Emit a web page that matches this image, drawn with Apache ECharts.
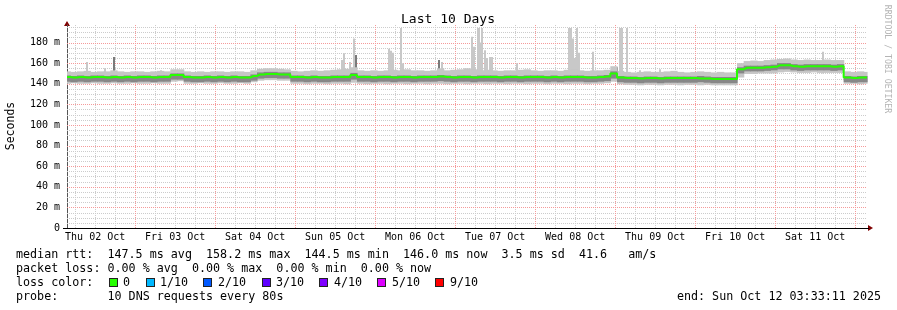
<!DOCTYPE html>
<html><head><meta charset="utf-8">
<script src="https://cdn.jsdelivr.net/npm/echarts@6/dist/echarts.min.js"></script>
<style>html,body{margin:0;padding:0;background:#fff}#c{width:897px;height:310px}</style>
</head><body><div id="c"></div>
<script>
// ---- time base: hours after Thu 02 Oct 00:00 ----
const START_H = 3 + 33/60 + 11/3600;   // graph start 03:33:11
const SPAN_H = 240;                    // 10 days
const STEP_H = 2;                      // sample spacing of the arrays below

const dayLabels = ['Thu 02 Oct','Fri 03 Oct','Sat 04 Oct','Sun 05 Oct','Mon 06 Oct','Tue 07 Oct','Wed 08 Oct','Thu 09 Oct','Fri 10 Oct','Sat 11 Oct'];
const dayLabelHours = [12,36,60,84,108,132,156,180,204,228];
const yMajorTicks = [20,40,60,80,100,120,140,160,180];
const yMax = 197;

// ---- median rtt (ms), one value every 2 h ----
const median = [146.5,146,146.5,146,146.5,146.5,146,146.5,146,146.5,146,146.5,146.5,146,146.5,146.5,
148.5,148.5,
146.5,146,146,146.5,146,146.5,146,146.5,146,146,
147.5,149,149.5,149.5,149,149,
146.5,146.5,146,146.5,146,146,146.5,146.5,146.5,148.5,146.5,146.5,146,146.5,146.5,146,146.5,146.5,146,146.5,146.5,146.5,
147,146.5,146,146.5,146.5,146,146.5,146.5,146.5,146,146.5,146.5,146,146.5,146.5,146.5,146,146.5,146,146.5,146.5,146.5,146,146,146.5,147,
150,146,
145.5,145.5,145,145.5,145.5,145,145.5,145.5,145.5,145.5,145.5,145,145,144.5,144.5,144.5,144.5,
154,
155.5,155.5,155.5,156,156.5,158,158,157,156.5,157,157,157,157,156.5,157,
146,145.5,146,146];

// ---- smoke: outer min / max and inner band (ms) ----
const smokeLo = [140,140.5,140,140,140.5,140,140,140.5,140,140,140.5,140,140,140.5,140,140,
142,142.5,
140,140,140.5,140,140,140.5,140,140,140.5,140,
141.5,143,143.5,143.5,143,143,
140,140,139.5,140,140,139.5,140,140,139.5,141,140,139.5,140,140,139.5,140,140,139.5,140,140,139.5,140,
140,139.5,140,140,139.5,140,140,139.5,140,140,139.5,140,140,139.5,140,140,139.5,140,140,139.5,140,140,139.5,140,140,140.5,
142,139.5,
139,139,138.5,139,139,138.5,139,139,138.5,139,139,138.5,139,138.5,138.5,138.5,138.5,
146,
149.5,149.5,150,150,150,151,151.5,151,150.5,150.5,151,150.5,150.5,150.5,150.5,
140,140,139.5,140];

const smokeHi = [152,151.5,152,152.5,151.5,152,152,153,152,151.5,152,152,151.5,152,152.5,152,
154,154,
152,151.5,152,151.5,152,152,151.5,152,152,151.5,
153,154.5,155,155,154.5,154,
152.5,152,152.5,153,152.5,153,153.5,154,154.5,
156,
153,152.5,153,152.5,153,153.5,153,154,153,153,152.5,153,
155,
153,153.5,154,155,154,153,153.5,153,152.5,153,153,153.5,154,153,152.5,153,153,152.5,153.5,154,153,152.5,153,153,153.5,
157,152.5,
151.5,151,151.5,152,151.5,151.5,152,152.5,151.5,151,151.5,152,151.5,151,151.5,151,151,
160,
162,162.5,162,163,163.5,164,164.5,163.5,163,163.5,163,163,163.5,163,163,
152,151.5,152,151.5];

const smokeQ1 = [142,141.5,142,141.5,142,142,141.5,142,141.5,142,141.5,142,142,141.5,142,142,
144,144,
142,141.5,141.5,142,141.5,142,141.5,142,141.5,141.5,
143,145,145.5,145.5,145,145,
142,142,141.5,142,141.5,141.5,142,142,142,144,142,142,141.5,142,142,141.5,142,142,141.5,142,142,142,
142.5,142,141.5,142,142,141.5,142,142,142,141.5,142,142,141.5,142,142,142,141.5,142,141.5,142,142,142,141.5,141.5,142,142.5,
145,141.5,
141,141,140.5,141,141,140.5,141,141,141,141,141,141.5,141,140.5,140.5,140.5,140.5,
150,
152,152,152,152.5,153,154,154,153,152.5,153,153,153,153,152.5,153,
141.5,141,141.5,141.5];

const smokeQ3 = [148,147.5,148,147.5,148,148,147.5,148,147.5,148,147.5,148,148,147.5,148,148,
150,150,
148,147.5,147.5,148,147.5,148,147.5,148,147.5,147.5,
149,151,151.5,151.5,151,151,
148,148,147.5,148,147.5,147.5,148,148,148,150.5,148,148,147.5,148,148,147.5,148,148,147.5,148,148,148,
148.5,148,147.5,148,148,147.5,148,148,148,147.5,148,148,147.5,148,148,148,147.5,148,147.5,148,148,148,147.5,147.5,148,148.5,
152,147.5,
147,147,146.5,147,147,146.5,147,147,147,147,147,147.5,147,146.5,146.5,146.5,146.5,
156,
157.5,157.5,157.5,158,158.5,160,160,159,158.5,159,159,159,159,158.5,159,
147.5,147,147.5,147.5];

// ---- outlier spikes: hours after graph start, top value (ms) ----
const SPIKE_BASE = 150;
const spikeHours = [6.0,11.4,28.2,82.5,83.0,85.0,86.0,96.7,97.2,97.8,100.3,100.8,112.5,119.4,121.6,122.1,123.3,123.7,124.2,124.6,125.5,126.0,127.0,127.6,135.0,150.6,151.2,151.8,152.4,153.0,153.6,157.8,166.0,166.6,168.1,171.9,177.9,226.8];
const spikeTops  = [161,155,153,163,169.5,161,184,174,172,170,194,160,161,153,185.5,176,194,194,180,194,172.5,165,166,166,160,194,194,184,165,194,170,171,194,194,194,153,154,171];
const darkSpikeHours = [14.1,86.6,111.7,165.1];
const darkSpikeTops  = [166,168,163,156];

// ---- text ----
const titleText = 'Last 10 Days';
const yAxisTitle = 'Seconds';
const line1 = 'median rtt:  147.5 ms avg  158.2 ms max  144.5 ms min  146.0 ms now  3.5 ms sd  41.6   am/s';
const line2 = 'packet loss: 0.00 % avg  0.00 % max  0.00 % min  0.00 % now';
const line3 = 'loss color:';
const lossLabels = ['0','1/10','2/10','3/10','4/10','5/10','9/10'];
const lossColors = ['#26ff00','#00b8ff','#0059ff','#5e00ff','#7e00ff','#dd00ff','#ff0000'];
const line4a = 'probe:';
const line4b = '10 DNS requests every 80s';
const endText = 'end: Sun Oct 12 03:33:11 2025';
const credit = 'RRDTOOL / TOBI OETIKER';

// ---- build ----
const MONO = '"DejaVu Sans Mono", monospace';
const RED = '#f59a9a', GRAY = '#cccccc';
const tAt = i => START_H + i * STEP_H;
const bandData = (lo, hi) => lo.map((v, i) => [tAt(i), v, hi[i]]);

const majorX = [], minorX = [], minorY = [];
for (let h = 6; h < START_H + SPAN_H; h += 6) {
  if (h <= START_H) continue;
  (h % 24 === 0 ? majorX : minorX).push([h, 0]);
}
for (let v = 5; v < yMax; v += 5) if (v % 20 !== 0) minorY.push([START_H, v]);
const majorY = yMajorTicks.map(v => [START_H, v]);

// dotted grid lines, snapped to pixel centres
const vGridRender = (color) => (params, api) => {
  const cs = params.coordSys;
  const x = Math.round(api.coord([api.value(0), 0])[0]) + 0.5;
  return { type: 'line', shape: { x1: x, y1: cs.y, x2: x, y2: cs.y + cs.height }, style: { stroke: color, lineWidth: 1, lineDash: [1, 1] } };
};
const hGridRender = (color) => (params, api) => {
  const cs = params.coordSys;
  const y = Math.round(api.coord([START_H, api.value(1)])[1]) + 0.5;
  return { type: 'line', shape: { x1: cs.x, y1: y, x2: cs.x + cs.width, y2: y }, style: { stroke: color, lineWidth: 1, lineDash: [1, 1] } };
};
const spikeRender = (color) => (params, api) => {
  const a = api.coord([api.value(0), api.value(1)]);
  const b = api.coord([api.value(0), api.value(2)]);
  return { type: 'rect', shape: { x: Math.round(a[0]) - 1, y: b[1], width: 2, height: a[1] - b[1] }, style: { fill: color } };
};
const bandRender = (color) => (params, api) => {
  const t = api.value(0);
  const cs = params.coordSys;
  const a = api.coord([t - STEP_H / 2, api.value(2)]);
  const b = api.coord([t + STEP_H / 2, api.value(1)]);
  const x0 = Math.max(cs.x, a[0]), x1 = Math.min(cs.x + cs.width, b[0]);
  return { type: 'rect', shape: { x: x0, y: a[1], width: x1 - x0 + 0.6, height: b[1] - a[1] }, style: { fill: color } };
};

const GL = 67, GT = 25, GW = 800, GH = 203;
const chart = echarts.init(document.getElementById('c'), null, { renderer: 'canvas' });

const lossGraphics = [];
const boxX = [109, 146, 203, 262, 319, 377, 435];
const labX = [123, 160, 218, 276, 334, 392, 450];
lossLabels.forEach((l, i) => {
  lossGraphics.push({ type: 'rect', shape: { x: boxX[i], y: 278, width: 9, height: 9 }, style: { fill: '#222' } });
  lossGraphics.push({ type: 'rect', shape: { x: boxX[i] + 1, y: 279, width: 7, height: 7 }, style: { fill: lossColors[i] } });
  lossGraphics.push({ type: 'text', x: labX[i], y: 282.5, style: { text: l, font: '11.7px ' + MONO, fill: '#000', verticalAlign: 'middle' } });
});
const txt = (t, x, y, extra) => Object.assign({ type: 'text', x, y, style: Object.assign({ text: t, font: '11.7px ' + MONO, fill: '#000', verticalAlign: 'middle' }, extra || {}) });
const gridSeries = (data, render) => ({ type: 'custom', renderItem: render, data, encode: { x: 0, y: 1 }, silent: true, z: 1 });

chart.setOption({
  animation: false,
  backgroundColor: '#fff',
  grid: { left: GL, top: GT, width: GW, height: GH },
  xAxis: {
    type: 'value', min: START_H, max: START_H + SPAN_H,
    axisLine: { show: true, lineStyle: { color: '#000', width: 1 } },
    axisTick: { show: false },
    splitLine: { show: false },
    axisLabel: {
      customValues: dayLabelHours, margin: 4,
      formatter: v => dayLabels[dayLabelHours.indexOf(Math.round(v))] || '',
      fontFamily: MONO, fontSize: 10, color: '#000'
    }
  },
  yAxis: {
    type: 'value', min: 0, max: yMax, interval: 20,
    axisLine: { show: true, lineStyle: { color: '#555', width: 1 } },
    axisTick: { show: false },
    axisLabel: { showMaxLabel: false, margin: 7, fontFamily: MONO, fontSize: 10, color: '#000', formatter: v => v === 0 ? '0' : v + ' m' },
    splitLine: { show: false }
  },
  series: [
    gridSeries(minorY, hGridRender(GRAY)),
    gridSeries(minorX, vGridRender(GRAY)),
    gridSeries(majorY, hGridRender(RED)),
    gridSeries(majorX, vGridRender(RED)),
    { type: 'custom', renderItem: spikeRender('#c8c8c8'), data: spikeHours.map((h, i) => [START_H + h, SPIKE_BASE, spikeTops[i]]), encode: { x: 0, y: [1, 2] }, silent: true, z: 2 },
    { type: 'custom', renderItem: spikeRender('#7a7a7a'), data: darkSpikeHours.map((h, i) => [START_H + h, SPIKE_BASE, darkSpikeTops[i]]), encode: { x: 0, y: [1, 2] }, silent: true, z: 2 },
    { type: 'custom', renderItem: bandRender('#c6c6c6'), data: bandData(smokeLo, smokeHi), encode: { x: 0, y: [1, 2] }, silent: true, z: 3 },
    { type: 'custom', renderItem: bandRender('#878787'), data: bandData(smokeQ1, smokeQ3), encode: { x: 0, y: [1, 2] }, silent: true, z: 4 },
    { type: 'line', step: 'middle', showSymbol: false, symbol: 'none', silent: true, data: median.map((v, i) => [tAt(i), v]), lineStyle: { color: '#26ff00', width: 2 }, z: 5 }
  ],
  graphic: [
    txt(titleText, 448, 20, { font: '13px ' + MONO, align: 'center' }),
    { type: 'text', x: 11, y: 126, rotation: Math.PI / 2, style: { text: yAxisTitle, font: '11.5px ' + MONO, fill: '#000', align: 'center', verticalAlign: 'middle' } },
    { type: 'text', x: 887, y: 59, rotation: -Math.PI / 2, style: { text: credit, font: '8.2px ' + MONO, fill: '#b4b4b4', align: 'center', verticalAlign: 'middle' } },
    { type: 'polygon', shape: { points: [[GL, GT - 4], [GL - 3, GT + 1], [GL + 3, GT + 1]] }, style: { fill: '#800000' } },
    { type: 'polygon', shape: { points: [[GL + GW + 6, GT + GH], [GL + GW + 1, GT + GH - 3], [GL + GW + 1, GT + GH + 3]] }, style: { fill: '#800000' } },
    { type: 'rect', shape: { x: GL - 4, y: GT + GH, width: GW + 6, height: 1 }, style: { fill: '#000' } },
    txt(line1, 16, 254.5),
    txt(line2, 16, 268.5),
    txt(line3, 16, 282.5),
    txt(line4a, 16, 296.5),
    txt(line4b, 107.5, 296.5),
    txt(endText, 881, 296.5, { align: 'right' })
  ].concat(lossGraphics)
});
</script></body></html>
